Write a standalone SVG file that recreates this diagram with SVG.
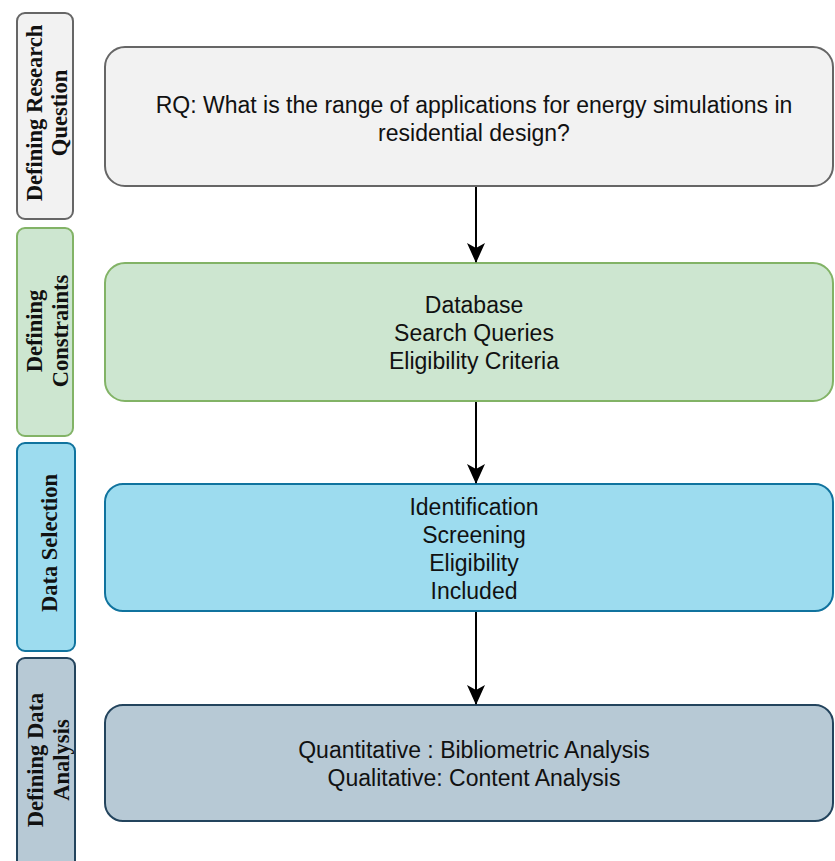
<svg xmlns="http://www.w3.org/2000/svg" width="835" height="861" viewBox="0 0 835 861">
<style>
.main{font-family:"Liberation Sans",Arial,sans-serif;font-size:23px;fill:#111;text-anchor:middle}
.side{font-family:"Liberation Serif","Times New Roman",serif;font-size:22.5px;font-weight:bold;fill:#111;text-anchor:middle}
.gray{fill:#f2f2f2;stroke:#666666;stroke-width:2}
.green{fill:#cde6d0;stroke:#82b366;stroke-width:2}
.blue{fill:#9ddcef;stroke:#10739e;stroke-width:2}
.dark{fill:#b7c9d5;stroke:#23445d;stroke-width:2}
.conn{stroke:#000;stroke-width:2;fill:none;marker-end:url(#ah)}
</style>
<defs>
<marker id="ah" markerUnits="userSpaceOnUse" viewBox="0 0 20 18" markerWidth="20" markerHeight="18" refX="19" refY="9" orient="auto">
<path d="M0,0 L20,9 L0,18 L5,9 Z" fill="#000"/>
</marker>
</defs>
<rect width="835" height="861" fill="#fff"/>

<g id="side-rq">
<rect class="gray" x="17" y="13" width="56" height="206" rx="8"/>
<text class="side" transform="translate(42,113) rotate(-90)">Defining Research</text>
<text class="side" transform="translate(67,113) rotate(-90)">Question</text>
</g>
<g id="side-constraints">
<rect class="green" x="17" y="228" width="56" height="208" rx="8"/>
<text class="side" transform="translate(42,331) rotate(-90)">Defining</text>
<text class="side" transform="translate(68,331) rotate(-90)">Constraints</text>
</g>
<g id="side-selection">
<rect class="blue" x="17" y="443" width="58" height="208" rx="8"/>
<text class="side" transform="translate(57,543) rotate(-90)">Data Selection</text>
</g>
<g id="side-analysis">
<rect class="dark" x="17" y="658" width="58" height="220" rx="8"/>
<text class="side" transform="translate(43,760) rotate(-90)">Defining Data</text>
<text class="side" transform="translate(69,760) rotate(-90)">Analysis</text>
</g>

<g id="node-rq">
<rect class="gray" x="105" y="47" width="728" height="139" rx="20"/>
<text class="main" x="474" y="113">RQ: What is the range of applications for energy simulations in</text>
<text class="main" x="474" y="141">residential design?</text>
</g>
<g id="node-constraints">
<rect class="green" x="105" y="263" width="728" height="138" rx="20"/>
<text class="main" x="474" y="313">Database</text>
<text class="main" x="474" y="341">Search Queries</text>
<text class="main" x="474" y="369">Eligibility Criteria</text>
</g>
<g id="node-selection">
<rect class="blue" x="105" y="484" width="728" height="127" rx="18"/>
<text class="main" x="474" y="515">Identification</text>
<text class="main" x="474" y="543">Screening</text>
<text class="main" x="474" y="571">Eligibility</text>
<text class="main" x="474" y="599">Included</text>
</g>
<g id="node-analysis">
<rect class="dark" x="105" y="705" width="728" height="116" rx="18"/>
<text class="main" x="474" y="758">Quantitative : Bibliometric Analysis</text>
<text class="main" x="474" y="786">Qualitative: Content Analysis</text>
</g>

<g id="connectors">
<line class="conn" x1="476" y1="187" x2="476" y2="262"/>
<line class="conn" x1="476" y1="402" x2="476" y2="483"/>
<line class="conn" x1="476" y1="612" x2="476" y2="704"/>
</g>
</svg>
